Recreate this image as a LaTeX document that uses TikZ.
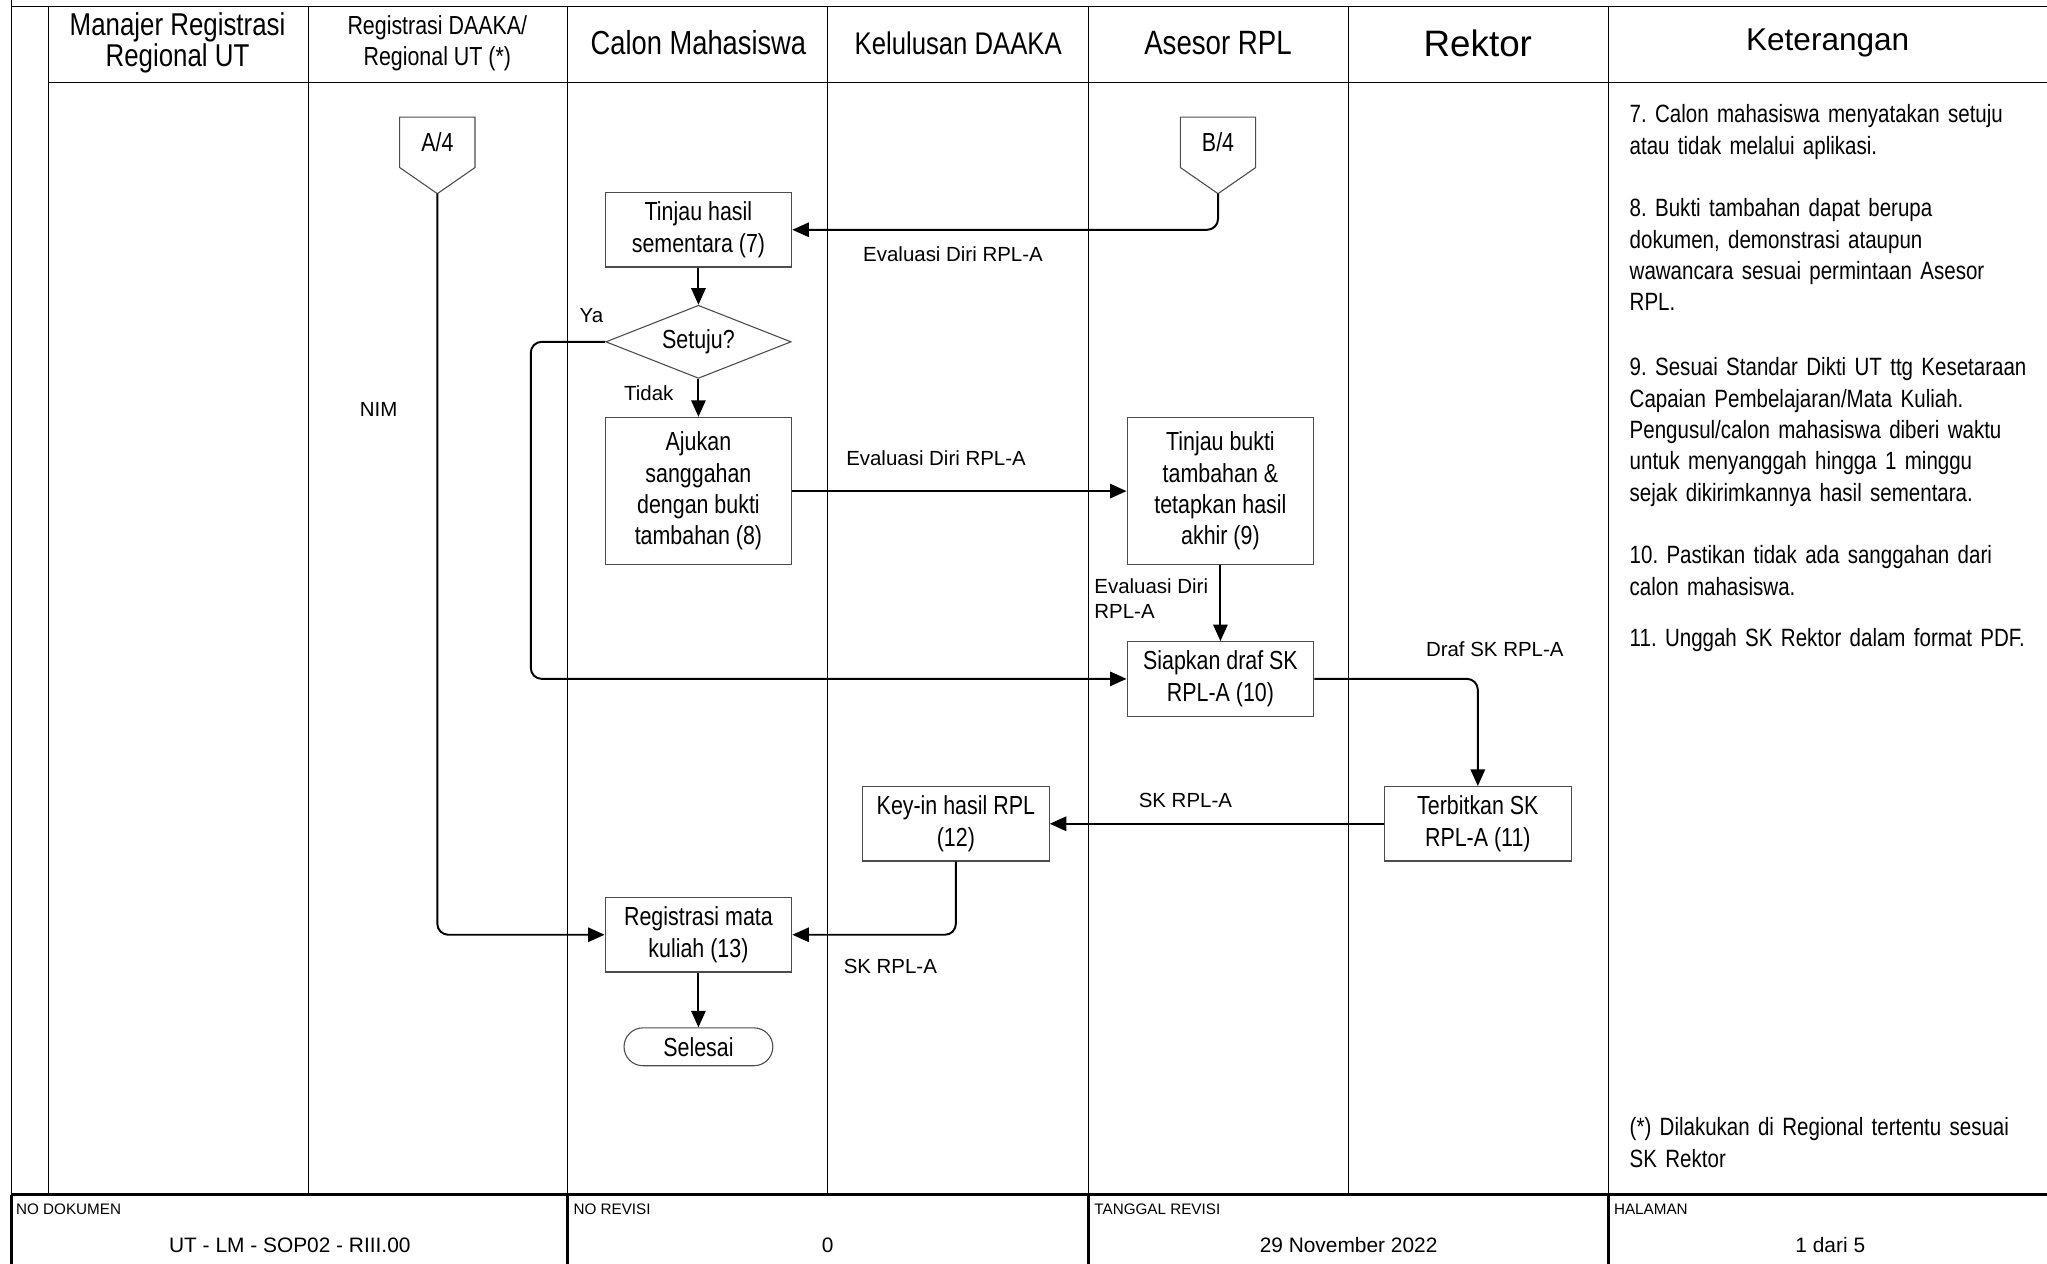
\documentclass[tikz,border=0pt]{standalone}
\usepackage{fontspec}
\setmainfont{Liberation Sans}
\newfontfamily\narrowfont{Liberation Sans}[FakeStretch=0.82]
\usepackage{tikz}
\usetikzlibrary{positioning}
\usetikzlibrary{shapes.geometric}
\usetikzlibrary{arrows.meta}
\usetikzlibrary{calc}
\newcommand{\fsz}[2]{\fontsize{#1}{#2}\selectfont}
\tikzstyle{lane}=[line width=0.45pt]
\tikzstyle{frame}=[line width=1.4pt]
\tikzstyle{boxline}=[draw=black!70, line width=0.5pt]
\tikzstyle{proc}=[boxline, minimum width=85.8pt, minimum height=34.2pt, inner sep=0pt, align=center, font=\narrowfont\fsz{12}{14.4}]
\tikzstyle{decision}=[boxline, diamond, aspect=2.5, minimum width=85.2pt, minimum height=33.6pt, inner sep=0pt, font=\narrowfont\fsz{12}{14.4}]
\tikzstyle{terminal}=[boxline, rounded corners=8.7pt, minimum width=68.4pt, minimum height=17.4pt, inner sep=0pt, font=\narrowfont\fsz{12}{14.4}]
\tikzstyle{offpage}=[minimum width=34.2pt, minimum height=22.8pt, inner sep=0pt, font=\narrowfont\fsz{12}{14.4}]
\tikzstyle{flow}=[line width=0.9pt, rounded corners=5pt, -{Triangle[length=7.6pt,width=6.6pt]}]
\tikzstyle{lbl}=[inner sep=0pt, font=\fsz{9.4}{11.4}]
\tikzstyle{note}=[anchor=base west, inner sep=0pt, text width=190pt, align=left, font=\narrowfont\fsz{11.5}{14.4}\frenchspacing]
\tikzstyle{head}=[inner sep=0pt, align=center]
\tikzstyle{foothead}=[anchor=west, inner sep=0pt, font=\fsz{7}{8}]
\tikzstyle{footval}=[inner sep=0pt, font=\fsz{9.6}{11}]

\begin{document}
\frenchspacing
\begin{tikzpicture}[x=0.6pt, y=-0.6pt]
\useasboundingbox (0,0) rectangle (1568,968);

\draw[lane] (9,0) -- (9,915);
\draw[lane] (9,5) -- (1568,5);
\draw[lane] (37,63) -- (1568,63);
\draw[lane] (37,5) -- (37,915) (236,5) -- (236,915) (435,5) -- (435,915)
	(634,5) -- (634,915) (834,5) -- (834,915) (1033,5) -- (1033,915)
	(1232,5) -- (1232,915);
\draw[frame] (9,915) -- (1568,915);
\draw[frame] (9,915) -- (9,968) (435,915) -- (435,968) (834,915) -- (834,968)
	(1232,915) -- (1232,968);

\node (hManajer) 
	[head, font=\narrowfont\fsz{14.5}{14.4}] at (136,33) 
	{Manajer Registrasi\\Regional UT};
\node (hRegistrasi) 
	[head, font=\narrowfont\fsz{12}{14.4}] at (335,33) 
	{Registrasi DAAKA/\\Regional UT (*)};
\node (hCalon) 
	[head, font=\narrowfont\fsz{15.3}{16}] at (535,33) 
	{Calon Mahasiswa};
\node (hKelulusan) 
	[head, font=\narrowfont\fsz{14.4}{16}] at (734,33) 
	{Kelulusan DAAKA};
\node (hAsesor) 
	[head, font=\narrowfont\fsz{15.5}{16}] at (933,33) 
	{Asesor RPL};
\node (hRektor) 
	[head, font=\fsz{16.9}{18}] at (1132,33) 
	{Rektor};
\node (hKeterangan) 
	[head, font=\fsz{14.5}{16}] at (1400,33) 
	{Keterangan};

\node (offA) 
	[offpage] at (335,109) 
	{A/4};
\draw[boxline] (offA.north west) -- (offA.north east) -- (offA.south east)
	-- ($(offA.south)+(0,20)$) coordinate (tipA) -- (offA.south west) -- cycle;
\node (offB) 
	[offpage] at (933,109) 
	{B/4};
\draw[boxline] (offB.north west) -- (offB.north east) -- (offB.south east)
	-- ($(offB.south)+(0,20)$) coordinate (tipB) -- (offB.south west) -- cycle;

\node (tinjau) 
	[proc] at (535,176) 
	{Tinjau hasil\\sementara (7)};
\node (setuju) 
	[decision, below=17.1pt of tinjau] 
	{Setuju?};
\node (ajukan) 
	[proc, minimum height=67.8pt, below=17.4pt of setuju] 
	{Ajukan\\sanggahan\\dengan bukti\\tambahan (8)};
\node (tinjaubukti) 
	[proc, minimum height=67.8pt, right=153.6pt of ajukan] 
	{Tinjau bukti\\tambahan \&\\tetapkan hasil\\akhir (9)};
\node (siapkan) 
	[proc, below=34.8pt of tinjaubukti] 
	{Siapkan draf SK\\RPL-A (10)};
\node (terbitkan) 
	[proc] at (1132,631) 
	{Terbitkan SK\\RPL-A (11)};
\node (keyin) 
	[proc, left=153.6pt of terbitkan] 
	{Key-in hasil RPL\\(12)};
\node (registrasi) 
	[proc] at (535,716) 
	{Registrasi mata\\kuliah (13)};
\node (selesai) 
	[terminal, below=25.2pt of registrasi] 
	{Selesai};

\draw[flow] (tipB) |- (tinjau.east);
\draw[flow] (tinjau) -- (setuju);
\draw[flow] (setuju) -- (ajukan);
\draw[flow] (setuju.west) -- ++(-57,0) |- (siapkan.west);
\draw[flow] (ajukan) -- (tinjaubukti);
\draw[flow] (tinjaubukti) -- (siapkan);
\draw[flow] (siapkan.east) -| (terbitkan.north);
\draw[flow] (terbitkan) -- (keyin);
\draw[flow] (keyin.south) |- (registrasi.east);
\draw[flow] (tipA) |- (registrasi.west);
\draw[flow] (registrasi) -- (selesai);

\node (lEval1) [lbl] at (730,195) {Evaluasi Diri RPL-A};
\node (lYa) [lbl] at (453,242) {Ya};
\node (lTidak) [lbl] at (497,301) {Tidak};
\node (lNim) [lbl] at (290,314) {NIM};
\node (lEval2) [lbl] at (717,351) {Evaluasi Diri RPL-A};
\node (lEval3) [lbl, anchor=north west, align=left] at (838,443) {Evaluasi Diri\\RPL-A};
\node (lDraf) [lbl] at (1145,497) {Draf SK RPL-A};
\node (lSk1) [lbl] at (908,613) {SK RPL-A};
\node (lSk2) [lbl] at (682,740) {SK RPL-A};

\node (n7) 
	[note] at (1248,94) 
	{7. Calon mahasiswa menyatakan setuju\\atau tidak melalui aplikasi.};
\node (n8) 
	[note] at (1248,166) 
	{8. Bukti tambahan dapat berupa\\dokumen, demonstrasi ataupun\\wawancara sesuai permintaan Asesor\\RPL.};
\node (n9) 
	[note] at (1248,288) 
	{9. Sesuai Standar Dikti UT ttg Kesetaraan\\Capaian Pembelajaran/Mata Kuliah.\\Pengusul/calon mahasiswa diberi waktu\\untuk menyanggah hingga 1 minggu\\sejak dikirimkannya hasil sementara.};
\node (n10) 
	[note] at (1248,432) 
	{10. Pastikan tidak ada sanggahan dari\\calon mahasiswa.};
\node (n11) 
	[note] at (1248,495) 
	{11. Unggah SK Rektor dalam format PDF.};
\node (nStar) 
	[note] at (1248,870) 
	{(*) Dilakukan di Regional tertentu sesuai\\SK Rektor};

\node (fNoDok) [foothead] at (12,926) {NO DOKUMEN};
\node (fNoRev) [foothead] at (439,926) {NO REVISI};
\node (fTgl) [foothead] at (838,926) {TANGGAL REVISI};
\node (fHal) [foothead] at (1236,926) {HALAMAN};
\node (vNoDok) [footval] at (222,954) {UT - LM - SOP02 - RIII.00};
\node (vNoRev) [footval] at (634,954) {0};
\node (vTgl) [footval] at (1033,954) {29 November 2022};
\node (vHal) [footval] at (1402,954) {1 dari 5};
\end{tikzpicture}
\end{document}
